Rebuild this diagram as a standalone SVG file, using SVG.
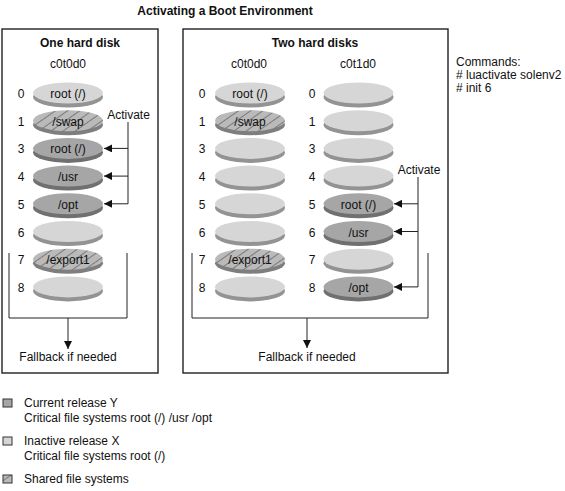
<svg xmlns="http://www.w3.org/2000/svg" width="565" height="491" viewBox="0 0 565 491">
<style>
text{font-family:"Liberation Sans",Arial,sans-serif;font-size:12px;fill:#111}
.b{font-weight:bold}
.m{text-anchor:middle}
.box{fill:none;stroke:#222;stroke-width:1.4}
.ln{fill:none;stroke:#222;stroke-width:1}
.lt{fill:#d6d6d6}.ltr{fill:#939393}
.dk{fill:#a6a6a6}.dkr{fill:#707070}
.ht{fill:url(#hatch)}.htr{fill:#7e7e7e}
.sq{stroke:#333;stroke-width:1}
</style>
<defs>
<pattern id="hatch" patternUnits="userSpaceOnUse" width="10" height="7" patternTransform="rotate(-35)">
<rect width="10" height="7" fill="#bababa"/>
<line x1="0" y1="3.5" x2="10" y2="3.5" stroke="#7a7a7a" stroke-width="1"/>
</pattern>
<marker id="ah" markerUnits="userSpaceOnUse" markerWidth="8" markerHeight="8" refX="8" refY="4" orient="auto">
<path d="M0,0 L8,4 L0,8 z" fill="#111"/>
</marker>
</defs>

<text class="b m" x="225" y="15">Activating a Boot Environment</text>

<g id="box-one">
<rect class="box" x="2" y="29" width="156" height="344"/>
<text class="b m" x="80" y="47">One hard disk</text>
<text class="m" x="68" y="68">c0t0d0</text>
</g>
<g id="box-two">
<rect class="box" x="183" y="29" width="265" height="344"/>
<text class="b m" x="315" y="47">Two hard disks</text>
<text class="m" x="249" y="68">c0t0d0</text>
<text class="m" x="358" y="68">c0t1d0</text>
</g>

<g id="slice-numbers">
<text class="m" x="21" y="98">0</text><text class="m" x="21" y="125.7">1</text><text class="m" x="21" y="153.4">3</text><text class="m" x="21" y="181.1">4</text><text class="m" x="21" y="208.8">5</text><text class="m" x="21" y="236.5">6</text><text class="m" x="21" y="264.2">7</text><text class="m" x="21" y="291.9">8</text>
<text class="m" x="202" y="98">0</text><text class="m" x="202" y="125.7">1</text><text class="m" x="202" y="153.4">3</text><text class="m" x="202" y="181.1">4</text><text class="m" x="202" y="208.8">5</text><text class="m" x="202" y="236.5">6</text><text class="m" x="202" y="264.2">7</text><text class="m" x="202" y="291.9">8</text>
<text class="m" x="312" y="98">0</text><text class="m" x="312" y="125.7">1</text><text class="m" x="312" y="153.4">3</text><text class="m" x="312" y="181.1">4</text><text class="m" x="312" y="208.8">5</text><text class="m" x="312" y="236.5">6</text><text class="m" x="312" y="264.2">7</text><text class="m" x="312" y="291.9">8</text>
</g>

<!-- One hard disk -->
<g id="d1-0"><ellipse class="ltr" cx="68" cy="97" rx="35" ry="10.5"/><ellipse class="lt" cx="68" cy="93" rx="35" ry="10.5"/><text class="m" x="68" y="98">root (/)</text></g>
<g id="d1-1"><ellipse class="htr" cx="68" cy="124.7" rx="35" ry="10.5"/><ellipse class="ht" cx="68" cy="120.7" rx="35" ry="10.5"/><text class="m" x="68" y="125.7">/swap</text></g>
<g id="d1-3"><ellipse class="dkr" cx="68" cy="152.4" rx="35" ry="10.5"/><ellipse class="dk" cx="68" cy="148.4" rx="35" ry="10.5"/><text class="m" x="68" y="153.4">root (/)</text></g>
<g id="d1-4"><ellipse class="dkr" cx="68" cy="180.1" rx="35" ry="10.5"/><ellipse class="dk" cx="68" cy="176.1" rx="35" ry="10.5"/><text class="m" x="68" y="181.1">/usr</text></g>
<g id="d1-5"><ellipse class="dkr" cx="68" cy="207.8" rx="35" ry="10.5"/><ellipse class="dk" cx="68" cy="203.8" rx="35" ry="10.5"/><text class="m" x="68" y="208.8">/opt</text></g>
<g id="d1-6"><ellipse class="ltr" cx="68" cy="235.5" rx="35" ry="10.5"/><ellipse class="lt" cx="68" cy="231.5" rx="35" ry="10.5"/></g>
<g id="d1-7"><ellipse class="htr" cx="68" cy="263.2" rx="35" ry="10.5"/><ellipse class="ht" cx="68" cy="259.2" rx="35" ry="10.5"/><text class="m" x="68" y="264.2">/export1</text></g>
<g id="d1-8"><ellipse class="ltr" cx="68" cy="290.9" rx="35" ry="10.5"/><ellipse class="lt" cx="68" cy="286.9" rx="35" ry="10.5"/></g>

<!-- Two hard disks: c0t0d0 -->
<g id="d2a-0"><ellipse class="ltr" cx="250" cy="97" rx="35" ry="10.5"/><ellipse class="lt" cx="250" cy="93" rx="35" ry="10.5"/><text class="m" x="250" y="98">root (/)</text></g>
<g id="d2a-1"><ellipse class="htr" cx="250" cy="124.7" rx="35" ry="10.5"/><ellipse class="ht" cx="250" cy="120.7" rx="35" ry="10.5"/><text class="m" x="250" y="125.7">/swap</text></g>
<g id="d2a-3"><ellipse class="ltr" cx="250" cy="152.4" rx="35" ry="10.5"/><ellipse class="lt" cx="250" cy="148.4" rx="35" ry="10.5"/></g>
<g id="d2a-4"><ellipse class="ltr" cx="250" cy="180.1" rx="35" ry="10.5"/><ellipse class="lt" cx="250" cy="176.1" rx="35" ry="10.5"/></g>
<g id="d2a-5"><ellipse class="ltr" cx="250" cy="207.8" rx="35" ry="10.5"/><ellipse class="lt" cx="250" cy="203.8" rx="35" ry="10.5"/></g>
<g id="d2a-6"><ellipse class="ltr" cx="250" cy="235.5" rx="35" ry="10.5"/><ellipse class="lt" cx="250" cy="231.5" rx="35" ry="10.5"/></g>
<g id="d2a-7"><ellipse class="htr" cx="250" cy="263.2" rx="35" ry="10.5"/><ellipse class="ht" cx="250" cy="259.2" rx="35" ry="10.5"/><text class="m" x="250" y="264.2">/export1</text></g>
<g id="d2a-8"><ellipse class="ltr" cx="250" cy="290.9" rx="35" ry="10.5"/><ellipse class="lt" cx="250" cy="286.9" rx="35" ry="10.5"/></g>

<!-- Two hard disks: c0t1d0 -->
<g id="d2b-0"><ellipse class="ltr" cx="358.5" cy="97" rx="35" ry="10.5"/><ellipse class="lt" cx="358.5" cy="93" rx="35" ry="10.5"/></g>
<g id="d2b-1"><ellipse class="ltr" cx="358.5" cy="124.7" rx="35" ry="10.5"/><ellipse class="lt" cx="358.5" cy="120.7" rx="35" ry="10.5"/></g>
<g id="d2b-3"><ellipse class="ltr" cx="358.5" cy="152.4" rx="35" ry="10.5"/><ellipse class="lt" cx="358.5" cy="148.4" rx="35" ry="10.5"/></g>
<g id="d2b-4"><ellipse class="ltr" cx="358.5" cy="180.1" rx="35" ry="10.5"/><ellipse class="lt" cx="358.5" cy="176.1" rx="35" ry="10.5"/></g>
<g id="d2b-5"><ellipse class="dkr" cx="358.5" cy="207.8" rx="35" ry="10.5"/><ellipse class="dk" cx="358.5" cy="203.8" rx="35" ry="10.5"/><text class="m" x="358.5" y="208.8">root (/)</text></g>
<g id="d2b-6"><ellipse class="dkr" cx="358.5" cy="235.5" rx="35" ry="10.5"/><ellipse class="dk" cx="358.5" cy="231.5" rx="35" ry="10.5"/><text class="m" x="358.5" y="236.5">/usr</text></g>
<g id="d2b-7"><ellipse class="ltr" cx="358.5" cy="263.2" rx="35" ry="10.5"/><ellipse class="lt" cx="358.5" cy="259.2" rx="35" ry="10.5"/></g>
<g id="d2b-8"><ellipse class="dkr" cx="358.5" cy="290.9" rx="35" ry="10.5"/><ellipse class="dk" cx="358.5" cy="286.9" rx="35" ry="10.5"/><text class="m" x="358.5" y="291.9">/opt</text></g>

<g id="connectors">
<text class="m" x="128.5" y="119">Activate</text>
<path class="ln" d="M128,122 V203.8"/>
<path class="ln" d="M128,148.4 H104" marker-end="url(#ah)"/>
<path class="ln" d="M128,176.1 H104" marker-end="url(#ah)"/>
<path class="ln" d="M128,203.8 H104" marker-end="url(#ah)"/>
<path class="ln" d="M9,253 V318 H127 V253"/>
<path class="ln" d="M68,318 V349" marker-end="url(#ah)"/>
<text class="m" x="68" y="361">Fallback if needed</text>

<text class="m" x="419" y="174">Activate</text>
<path class="ln" d="M418,177 V286.9"/>
<path class="ln" d="M418,203.8 H394" marker-end="url(#ah)"/>
<path class="ln" d="M418,231.5 H394" marker-end="url(#ah)"/>
<path class="ln" d="M418,286.9 H394" marker-end="url(#ah)"/>
<path class="ln" d="M192,253 V318 H428 V253"/>
<path class="ln" d="M307,318 V348" marker-end="url(#ah)"/>
<text class="m" x="307" y="361">Fallback if needed</text>
</g>

<g id="commands">
<text x="456" y="66">Commands:</text>
<text x="456" y="79">#&#160;luactivate solenv2</text>
<text x="456" y="92">#&#160;init 6</text>
</g>

<g id="legend">
<rect class="sq" x="3" y="399" width="9" height="8" fill="#a6a6a6"/>
<text x="24" y="407">Current release Y</text>
<text x="24" y="422">Critical file systems root (/) /usr /opt</text>
<rect class="sq" x="3" y="437" width="9" height="8" fill="#d6d6d6"/>
<text x="24" y="445">Inactive release X</text>
<text x="24" y="460">Critical file systems root (/)</text>
<rect class="sq" x="3" y="475" width="9" height="8" fill="url(#hatch)"/>
<text x="24" y="483">Shared file systems</text>
</g>
</svg>
